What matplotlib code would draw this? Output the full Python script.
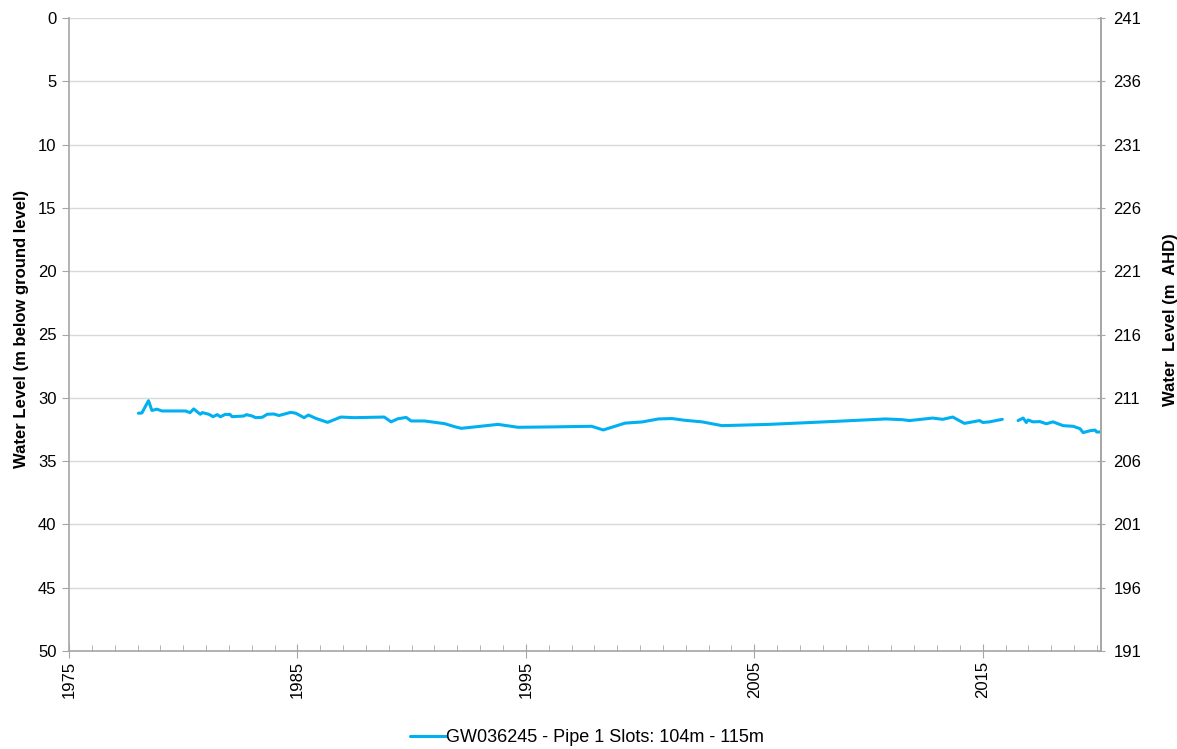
import numpy as np
import matplotlib
matplotlib.use("Agg")
import matplotlib.pyplot as plt
from matplotlib.ticker import MultipleLocator

plt.rcParams['font.family'] = ['Liberation Sans', 'DejaVu Sans']

# Bore hydrograph: decimal year vs depth to water (m below ground level)
years = [
    1978.04, 1978.19, 1978.48, 1978.63, 1978.85, 1979.07, 1980.10, 1980.30,
    1980.46, 1980.64, 1980.75, 1980.83, 1981.12, 1981.31, 1981.49, 1981.63,
    1981.85, 1981.97, 1982.04, 1982.14, 1982.65, 1982.77, 1983.02, 1983.17,
    1983.46, 1983.68, 1983.97, 1984.19, 1984.71, 1984.93, 1985.29, 1985.48,
    1985.80, 1986.32, 1986.90, 1987.49, 1988.80, 1989.10, 1989.39, 1989.76,
    1989.98, 1990.56, 1991.44, 1991.88, 1992.17, 1992.76, 1993.78, 1994.66,
    1996.12, 1997.88, 1998.39, 1999.34, 2000.08, 2000.81, 2001.40, 2001.98,
    2002.71, 2003.59, 2005.64, 2008.57, 2010.76, 2011.50, 2011.79, 2012.81,
    2013.25, 2013.69, 2014.20, 2014.86, 2015.01, 2015.30, 2015.86,
    2016.20,
    2016.55, 2016.77, 2016.91, 2016.99, 2017.20, 2017.50, 2017.79, 2018.08,
    2018.52, 2018.96, 2019.26, 2019.40, 2019.70, 2019.92, 2019.99, 2020.14,
]
depth_m = [
    31.22, 31.20, 30.23, 31.00, 30.90, 31.04, 31.04, 31.17,
    30.88, 31.15, 31.30, 31.17, 31.30, 31.49, 31.33, 31.50,
    31.30, 31.33, 31.30, 31.49, 31.44, 31.33, 31.44, 31.57,
    31.54, 31.30, 31.28, 31.40, 31.15, 31.22, 31.57, 31.36,
    31.62, 31.94, 31.52, 31.57, 31.52, 31.90, 31.66, 31.55,
    31.83, 31.83, 32.04, 32.28, 32.41, 32.30, 32.10, 32.33,
    32.30, 32.25, 32.54, 32.00, 31.91, 31.67, 31.64, 31.78,
    31.90, 32.20, 32.10, 31.86, 31.67, 31.73, 31.80, 31.60,
    31.70, 31.52, 32.02, 31.80, 31.95, 31.90, 31.70,
    np.nan,
    31.80, 31.60, 31.95, 31.75, 31.90, 31.88, 32.05, 31.90,
    32.20, 32.25, 32.44, 32.75, 32.60, 32.55, 32.70, 32.70,
]
series_label = "GW036245 - Pipe 1 Slots: 104m - 115m"
year_ticks = [1975, 1985, 1995, 2005, 2015]
depth_ticks = [0, 5, 10, 15, 20, 25, 30, 35, 40, 45, 50]
ground_level_ahd = 241
ahd_ticks = [241, 236, 231, 226, 221, 216, 211, 206, 201, 196, 191]

line_color = "#00B0F0"
axis_color = "#A6A6A6"
fs = 12

fig = plt.figure(figsize=(11.77, 7.49), dpi=100)
ax = fig.add_axes([69 / 1177, 1 - 651 / 749, (1101 - 69) / 1177, (651 - 18) / 749])

ax.plot(years, depth_m, color=line_color, lw=2.2, label=series_label,
        solid_joinstyle='round', solid_capstyle='round')

ax.set_xlim(1975, 2020.18)
ax.set_ylim(50, 0)
ax.set_yticks(depth_ticks)
ax.set_xticks(year_ticks)
ax.set_xticklabels([str(y) for y in year_ticks])
ax.xaxis.set_minor_locator(MultipleLocator(1))
ax.grid(axis='y', color='#D9D9D9', lw=1)
ax.set_axisbelow(True)

ax.spines['top'].set_visible(False)
for side in ['left', 'bottom', 'right']:
    ax.spines[side].set_color(axis_color)
    ax.spines[side].set_linewidth(1.2)

ax.tick_params(axis='y', which='major', direction='out', length=5, color=axis_color,
               labelsize=fs, pad=4)
ax.tick_params(axis='x', which='major', direction='inout', length=10, color=axis_color,
               labelsize=fs, labelrotation=90, pad=2)
ax.tick_params(axis='x', which='minor', direction='in', length=4, color=axis_color)
for lbl in ax.get_xticklabels():
    lbl.set_verticalalignment('top')

ax.set_ylabel("Water Level (m below ground level)", fontsize=fs, fontweight='bold')
ax.yaxis.set_label_coords(-0.0387, 0.509)

# Reduced level axis (m AHD)
ax2 = ax.twinx()
ax2.set_ylim(ground_level_ahd - 50, ground_level_ahd)
ax2.set_yticks(ahd_ticks)
for side in ['top', 'left', 'bottom']:
    ax2.spines[side].set_visible(False)
ax2.spines['right'].set_color(axis_color)
ax2.spines['right'].set_linewidth(1.2)
ax2.tick_params(axis='y', direction='inout', length=6, color=axis_color, labelsize=fs, pad=6)
ax2.set_ylabel("Water  Level (m  AHD)", fontsize=fs, fontweight='bold', rotation=90)
ax2.yaxis.set_label_coords(1.0597, 0.523)

fig.legend(handles=ax.get_lines(), loc='center', bbox_to_anchor=(0.4987, 1 - 738 / 749),
           frameon=False, fontsize=13, handlelength=2.0, handletextpad=0.0)

fig.savefig("out.png", dpi=100)
